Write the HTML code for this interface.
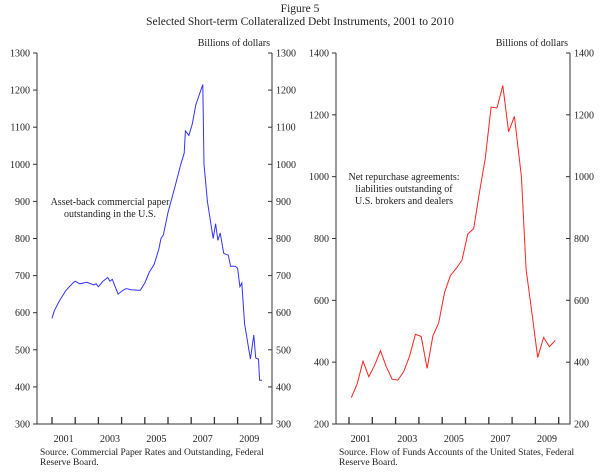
<!DOCTYPE html>
<html><head><meta charset="utf-8"><style>
body{margin:0;background:#fff;}
svg, svg text{font-family:"Liberation Serif","DejaVu Serif",serif;}
svg text{fill:#222;}
</style></head><body>
<svg id="chart" width="600" height="470" xmlns="http://www.w3.org/2000/svg" font-family="Liberation Serif, serif">
<text x="300" y="12" font-size="11.5" text-anchor="middle" font-family="Liberation Serif, serif">Figure 5</text>
<text x="300" y="25" font-size="11.5" text-anchor="middle" font-family="Liberation Serif, serif">Selected Short-term Collateralized Debt Instruments, 2001 to 2010</text>
<g id="left"></g>
<g id="right"></g>
</svg>
<script>
const leftDates=[2001.0,2001.1,2001.3,2001.6,2001.9,2002.0,2002.2,2002.5,2002.8,2002.9,2003.0,2003.2,2003.4,2003.5,2003.6,2003.85,2004.05,2004.2,2004.4,2004.8,2005.0,2005.2,2005.4,2005.6,2005.7,2005.8,2006.0,2006.3,2006.55,2006.7,2006.75,2006.9,2007.05,2007.2,2007.5,2007.55,2007.7,2007.95,2008.05,2008.15,2008.25,2008.4,2008.6,2008.7,2008.9,2009.0,2009.1,2009.18,2009.3,2009.55,2009.7,2009.78,2009.9,2009.95,2010.05];
const leftValues=[585,605,630,660,680,685,678,682,675,678,670,685,695,685,690,650,660,665,662,660,680,710,730,770,800,810,870,940,1000,1030,1090,1078,1110,1160,1215,1000,900,800,840,795,815,760,755,725,725,720,670,680,570,475,540,478,475,418,418];
const rightDates=[2001.1,2001.35,2001.6,2001.85,2002.1,2002.35,2002.6,2002.85,2003.1,2003.35,2003.6,2003.85,2004.1,2004.35,2004.6,2004.85,2005.1,2005.35,2005.6,2005.85,2006.1,2006.35,2006.6,2006.85,2007.1,2007.35,2007.6,2007.85,2008.1,2008.4,2008.6,2008.85,2009.1,2009.35,2009.6,2009.85];
const rightValues=[285,330,403,353,390,437,385,345,342,370,420,490,483,380,485,527,625,680,703,730,815,832,950,1060,1225,1222,1295,1145,1195,1000,700,560,415,480,450,470];
const yearLabels=["2001","2003","2005","2007","2009"];
const leftTicks=[300,400,500,600,700,800,900,1000,1100,1200,1300];
const rightTicks=[200,400,600,800,1000,1200,1400];
const NS="http://www.w3.org/2000/svg";
const FF="Liberation Serif, serif";
function mk(p,t,a){const e=document.createElementNS(NS,t);for(const k in a)e.setAttribute(k,a[k]);if(t==='text')e.setAttribute('font-family',FF);p.appendChild(e);return e;}
function panel(g,cfg){
  const x=t=>cfg.x0+(t-2001)*cfg.yr;
  const y=v=>424-(v-cfg.min)/(cfg.max-cfg.min)*371;
  const ax=mk(g,'path',{d:`M${cfg.L},53V424H${cfg.R}V53`,fill:'none',stroke:'#333','stroke-width':1});
  
  
  cfg.ticks.forEach(v=>{
    mk(g,'line',{x1:cfg.L-4,x2:cfg.L,y1:y(v),y2:y(v),stroke:'#333'});
    mk(g,'line',{x1:cfg.R-4,x2:cfg.R,y1:y(v),y2:y(v),stroke:'#333'});
    const a=mk(g,'text',{x:cfg.L-7,y:y(v)+3.5,'font-size':10,'text-anchor':'end'});a.textContent=v;
    
    
    const b=mk(g,'text',{x:cfg.R+4,y:y(v)+3.5,'font-size':10});b.textContent=v;
    
    
  });
  for(let yr=2001;yr<=2010;yr++) mk(g,'line',{x1:x(yr),x2:x(yr),y1:424,y2:417,stroke:'#333','stroke-width':1.3});
  yearLabels.forEach(l=>{const t=mk(g,'text',{x:x(+l+0.5),y:442,'font-size':10,'text-anchor':'middle'});t.textContent=l;
    
    });
  const u=mk(g,'text',{x:cfg.R-2,y:46,'font-size':10,'text-anchor':'end'});u.textContent='Billions of dollars';
  
  
  const pts=cfg.dates.map((d,i)=>x(d).toFixed(1)+','+y(cfg.vals[i]).toFixed(1)).join(' ');
  const pl=mk(g,'polyline',{points:pts,fill:'none',stroke:cfg.color,'stroke-width':1});
  
  
  cfg.note.forEach((s,i)=>{const t=mk(g,'text',{x:cfg.nx,y:cfg.ny+i*12,'font-size':10,'text-anchor':'middle'});t.textContent=s;
    
    });
  cfg.src.forEach((s,i)=>{const t=mk(g,'text',{x:cfg.L+3,y:455+i*10,'font-size':9.5});t.textContent=s;
    
    });
}
panel(document.getElementById('left'),{L:37,R:272,x0:52,yr:23.2,min:300,max:1300,ticks:leftTicks,dates:leftDates,vals:leftValues,color:'#3333ff',
  note:['Asset-back commercial paper','outstanding in the U.S.'],nx:110,ny:205,src:['Source. Commercial Paper Rates and Outstanding, Federal','Reserve Board.']});
panel(document.getElementById('right'),{L:336,R:570,x0:349,yr:23.3,min:200,max:1400,ticks:rightTicks,dates:rightDates,vals:rightValues,color:'#ff2222',
  note:['Net repurchase agreements:','liabilities outstanding of','U.S. brokers and dealers'],nx:404,ny:180,src:['Source. Flow of Funds Accounts of the United States, Federal','Reserve Board.']});
</script>
</body></html>
